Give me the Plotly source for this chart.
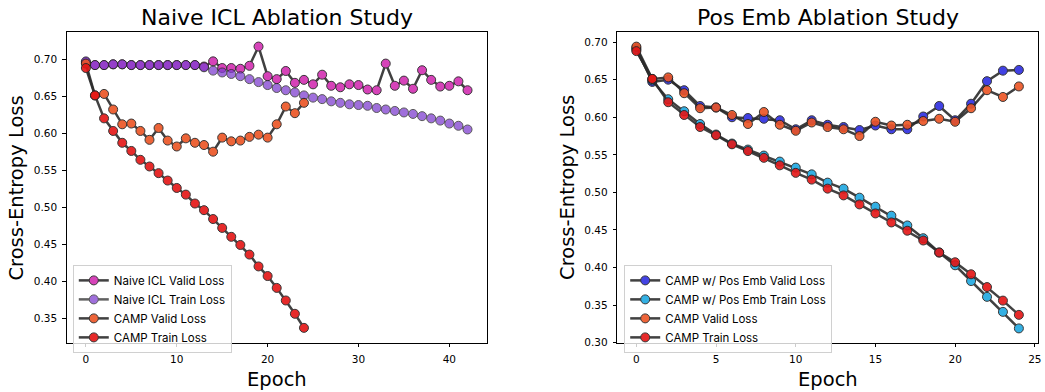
import plotly.graph_objects as go

# ---------------- data ----------------
epochs_naive = list(range(43))
epochs_camp = list(range(25))

naive_valid = [0.696, 0.692, 0.692, 0.693, 0.693, 0.692, 0.692, 0.692, 0.692, 0.692,
               0.692, 0.692, 0.692, 0.690, 0.697, 0.688, 0.688, 0.687, 0.691, 0.717,
               0.677, 0.673, 0.684, 0.668, 0.672, 0.666, 0.679, 0.664, 0.662, 0.666,
               0.665, 0.659, 0.658, 0.694, 0.664, 0.671, 0.660, 0.685, 0.672, 0.663,
               0.664, 0.670, 0.658]
naive_train = [0.697, 0.692, 0.692, 0.693, 0.693, 0.692, 0.692, 0.692, 0.692, 0.692,
               0.692, 0.692, 0.692, 0.689, 0.6845, 0.682, 0.680, 0.677, 0.673, 0.669,
               0.665, 0.661, 0.658, 0.655, 0.651, 0.648, 0.646, 0.643, 0.641, 0.639,
               0.638, 0.637, 0.634, 0.632, 0.630, 0.628, 0.626, 0.623, 0.620, 0.617,
               0.613, 0.610, 0.605]
camp_valid = [0.694, 0.651, 0.653, 0.632, 0.612, 0.613, 0.603, 0.591, 0.607, 0.590,
              0.582, 0.593, 0.587, 0.584, 0.575, 0.594, 0.589, 0.590, 0.595, 0.598,
              0.594, 0.612, 0.636, 0.627, 0.641]
camp_train = [0.688, 0.651, 0.620, 0.603, 0.587, 0.576, 0.564, 0.555, 0.546, 0.536,
              0.526, 0.517, 0.505, 0.496, 0.484, 0.472, 0.460, 0.449, 0.436, 0.420,
              0.407, 0.391, 0.374, 0.356, 0.337]
pos_valid = [0.692, 0.647, 0.650, 0.636, 0.615, 0.613, 0.600, 0.599, 0.598, 0.596,
             0.584, 0.596, 0.590, 0.587, 0.583, 0.589, 0.584, 0.584, 0.601, 0.615,
             0.596, 0.618, 0.648, 0.662, 0.663]
pos_train = [0.690, 0.649, 0.624, 0.608, 0.591, 0.577, 0.565, 0.557, 0.549, 0.541,
             0.533, 0.524, 0.513, 0.505, 0.493, 0.481, 0.469, 0.456, 0.439, 0.420,
             0.403, 0.382, 0.361, 0.341, 0.319]

left_xticks = [0, 10, 20, 30, 40]
right_xticks = [0, 5, 10, 15, 20, 25]
left_yticks = [0.35, 0.40, 0.45, 0.50, 0.55, 0.60, 0.65, 0.70]
right_yticks = [0.30, 0.35, 0.40, 0.45, 0.50, 0.55, 0.60, 0.65, 0.70]

W, H = 1045, 392
LINE = "rgba(45,45,45,1)"


def trace(x, y, name, color, xa, ya, legend, opacity=0.9):
    return go.Scatter(
        x=x, y=y, name=name, mode="lines+markers",
        xaxis=xa, yaxis=ya, legend=legend, opacity=opacity,
        line=dict(color=LINE, width=2.5),
        marker=dict(color=color, size=9, line=dict(color="#222222", width=1)),
    )


fig = go.Figure()
fig.add_trace(trace(epochs_naive, naive_valid, "Naive ICL Valid Loss", "#d22fb2", "x", "y", "legend"))
fig.add_trace(trace(epochs_naive, naive_train, "Naive ICL Train Loss", "#8040d0", "x", "y", "legend", 0.75))
fig.add_trace(trace(epochs_camp, camp_valid, "CAMP Valid Loss", "#ec5424", "x", "y", "legend"))
fig.add_trace(trace(epochs_camp, camp_train, "CAMP Train Loss", "#e41414", "x", "y", "legend"))

fig.add_trace(trace(epochs_camp, pos_valid, "CAMP w/ Pos Emb Valid Loss", "#2f2fe0", "x2", "y2", "legend2"))
fig.add_trace(trace(epochs_camp, pos_train, "CAMP w/ Pos Emb Train Loss", "#1fa8e0", "x2", "y2", "legend2"))
fig.add_trace(trace(epochs_camp, camp_valid, "CAMP Valid Loss", "#ec5424", "x2", "y2", "legend2"))
fig.add_trace(trace(epochs_camp, camp_train, "CAMP Train Loss", "#e41414", "x2", "y2", "legend2"))

tickfont = dict(family="DejaVu Sans", size=10.5, color="black")
axis_common = dict(showline=True, linecolor="black", linewidth=1, mirror=True,
                   ticks="outside", ticklen=3.5, tickwidth=1, tickcolor="black",
                   showgrid=False, zeroline=False, tickfont=tickfont,
                   ticklabeloverflow="allow", ticklabelstandoff=3)

L0, L1 = 67 / W, 488 / W
R0, R1 = 619 / W, 1041 / W
B0, B1 = (H - 348) / H, (H - 33) / H

legend_font = dict(family="Inter", size=11.5, color="black")
fig.update_layout(
    width=W, height=H,
    margin=dict(l=0, r=0, t=0, b=0),
    paper_bgcolor="white", plot_bgcolor="white",
    xaxis=dict(domain=[L0, L1], range=[-2.1, 44.1], tickvals=left_xticks, anchor="y", **axis_common),
    yaxis=dict(domain=[B0, B1], range=[0.317, 0.736], tickvals=left_yticks, tickformat=".2f", anchor="x", **axis_common),
    xaxis2=dict(domain=[R0, R1], range=[-1.2, 25.2], tickvals=right_xticks, anchor="y2", **axis_common),
    yaxis2=dict(domain=[B0, B1], range=[0.300, 0.7128], tickvals=right_yticks, tickformat=".2f", anchor="x2", **axis_common),
    legend=dict(x=73 / W, y=(H - 269) / H, xanchor="left", yanchor="top",
                bgcolor="rgba(255,255,255,0.8)", bordercolor="#d0d0d0", borderwidth=1,
                font=legend_font, tracegroupgap=0, itemwidth=30),
    legend2=dict(x=626 / W, y=(H - 269) / H, xanchor="left", yanchor="top",
                 bgcolor="rgba(255,255,255,0.8)", bordercolor="#d0d0d0", borderwidth=1,
                 font=legend_font, tracegroupgap=0, itemwidth=30),
    showlegend=True,
)

ann_font_title = dict(family="DejaVu Sans", size=22, color="black")
ann_font_label = dict(family="DejaVu Sans", size=19.5, color="black")
anns = [
    dict(text="Naive ICL Ablation Study", x=(67 + 488) / 2 / W, y=1 - 18 / H, font=ann_font_title),
    dict(text="Pos Emb Ablation Study", x=(619 + 1041) / 2 / W, y=1 - 18 / H, font=ann_font_title),
    dict(text="Epoch", x=(67 + 488) / 2 / W, y=1 - 385 / H, font=ann_font_label),
    dict(text="Epoch", x=(619 + 1041) / 2 / W, y=1 - 385 / H, font=ann_font_label),
    dict(text="Cross-Entropy Loss", x=17 / W, y=(B0 + B1) / 2, textangle=-90, font=ann_font_label),
    dict(text="Cross-Entropy Loss", x=569 / W, y=(B0 + B1) / 2, textangle=-90, font=ann_font_label),
]
for a in anns:
    fig.add_annotation(xref="paper", yref="paper", showarrow=False,
                       xanchor="center", yanchor="middle", **a)

fig.write_html("out.html", config={"displayModeBar": False},
               post_script="document.body.style.margin='0';document.body.style.overflow='hidden';")
